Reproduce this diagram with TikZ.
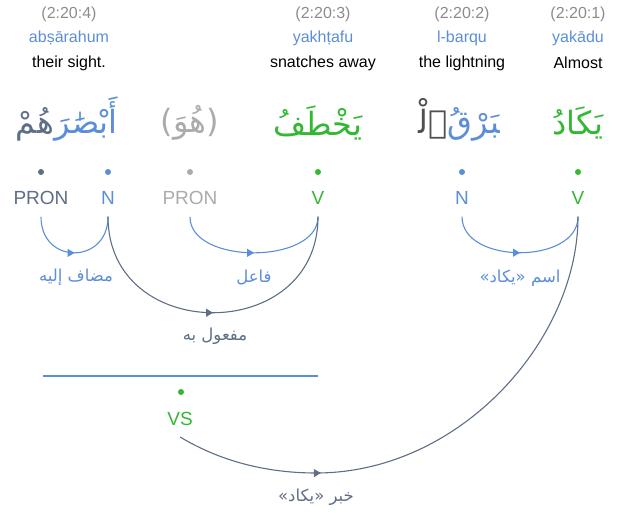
\documentclass[tikz,border=0pt]{standalone}
\usepackage{fontspec}
\setmainfont{Liberation Sans}
\newfontfamily\arabicfont[Script=Arabic]{DejaVu Sans}
\TeXXeTstate=1
\usetikzlibrary{arrows.meta,decorations.markings}
\definecolor{cblue}{HTML}{5B8ED8}
\definecolor{cslate}{HTML}{5D6E86}
\definecolor{cgreen}{HTML}{33B833}
\definecolor{cgray}{HTML}{ABABAB}
\definecolor{chead}{HTML}{8C8C8C}
\definecolor{cdark}{HTML}{505050}
\begin{document}
\begin{tikzpicture}[x=1pt,y=-1pt,
  headtxt/.style={font=\fontsize{16}{18}\selectfont, text=chead, inner sep=0},
  translit/.style={font=\fontsize{16}{18}\selectfont, text=cblue, inner sep=0},
  gloss/.style={font=\fontsize{16}{18}\selectfont, text=black, inner sep=0},
  arword/.style={font=\fontsize{32}{36}\arabicfont, inner sep=0},
  poslbl/.style={font=\fontsize{19}{21}\selectfont, inner sep=0},
  wdot/.style={circle, fill, inner sep=0, minimum size=6pt},
  rellbl/.style={font=\fontsize{16.5}{18}\arabicfont, inner sep=0},
  deparc/.style={line width=1.1pt, postaction={decorate},
    decoration={markings, mark=at position #1 with {\arrow{Triangle[length=7pt,width=8pt]}}}},
  ]
\useasboundingbox (0,0) rectangle (626,513);
% headers
\node[headtxt] (h4) at (69,14) {(2:20:4)};
\node[translit] (t4) at (69,38) {abṣārahum};
\node[gloss] (g4) at (69,63) {their sight.};
\node[headtxt] (h3) at (323,14) {(2:20:3)};
\node[translit] (t3) at (323,38) {yakhṭafu};
\node[gloss] (g3) at (323,63) {snatches away};
\node[headtxt] (h2) at (462,14) {(2:20:2)};
\node[translit] (t2) at (462,38) {l-barqu};
\node[gloss] (g2) at (462,63) {the lightning};
\node[headtxt] (h1) at (578,14) {(2:20:1)};
\node[translit] (t1) at (578,38) {yakādu};
\node[gloss] (g1) at (578,63) {Almost};
% arabic words
\node[arword, text=cblue, anchor=base] (w4b) at (86,134) {\beginR أَبْصَٰرَ\endR};
\node[arword, text=cslate, anchor=base east] (w4s) at (w4b.base west) {\beginR هُمْ\endR};
\node[arword, text=cgray] (w3h) at (190,123) {\beginR(هُوَ)\endR};
\node[arword, text=cgreen] (w3) at (318,123) {\beginR يَخْطَفُ\endR};
\node[arword, text=cblue, anchor=base] (w2b) at (474,134) {\beginR ‍بَرْقُ\endR};
\node[arword, text=cdark, anchor=base east] (w2a) at (w2b.base west) {\beginR ٱلْ‍\endR};
\node[arword, text=cgreen] (w1) at (578,123) {\beginR يَكَادُ\endR};
% dots
\node[wdot, cslate] (d4p) at (41,172) {};
\node[wdot, cblue] (d4n) at (108,172) {};
\node[wdot, cgray] (d3p) at (190,172) {};
\node[wdot, cgreen] (d3v) at (318,172) {};
\node[wdot, cblue] (d2n) at (462,172) {};
\node[wdot, cgreen] (d1v) at (578,172) {};
% pos labels
\node[poslbl, text=cslate] (pr4) at (41,198) {PRON};
\node[poslbl, text=cblue] (n4) at (108,198) {N};
\node[poslbl, text=cgray] (pr3) at (190,198) {PRON};
\node[poslbl, text=cgreen] (v3) at (318,198) {V};
\node[poslbl, text=cblue] (n2) at (462,198) {N};
\node[poslbl, text=cgreen] (v1) at (578,198) {V};
% hidden line and VS
\coordinate (hl) at (43,376);
\coordinate (hr) at (318,376);
\draw[cblue, line width=1.2pt] (hl) -- (hr);
\node[wdot, cgreen] (dvs) at (181,392) {};
\node[poslbl, text=cgreen] (vs) at (180,419) {VS};
% arcs
\draw[deparc=0.5, cblue] ([yshift=-12pt]pr4.south) .. controls +(0,48) and +(0,48) .. ([yshift=-12pt]n4.south);
\draw[deparc=0.5, cblue] ([yshift=-12pt]pr3.south) .. controls +(0,48) and +(0,48) .. ([yshift=-12pt]v3.south);
\draw[deparc=0.5, cslate] ([yshift=-12pt]n4.south) .. controls +(0,128) and +(0,128) .. ([yshift=-12pt]v3.south);
\draw[deparc=0.5, cblue] ([yshift=-12pt]n2.south) .. controls +(0,48) and +(0,48) .. ([yshift=-12pt]v1.south);
\coordinate (k5) at (316,473);
\draw[deparc=0.27, cslate] ([yshift=-11pt]vs.south) .. controls (215,458) and (260,473) .. (k5)
   .. controls (460,473) and (578,340) .. ([yshift=-12pt]v1.south);
% relation labels
\node[rellbl, text=cblue] (r1) at (76,277) {\beginR مضاف إليه\endR};
\node[rellbl, text=cblue] (r2) at (254,277) {\beginR فاعل\endR};
\node[rellbl, text=cslate] (r3) at (215,336) {\beginR مفعول به\endR};
\node[rellbl, text=cblue] (r4) at (520,278) {\beginR اسم «يكاد»\endR};
\node[rellbl, text=cslate] (r5) at (316,497) {\beginR خبر «يكاد»\endR};
\end{tikzpicture}
\end{document}
